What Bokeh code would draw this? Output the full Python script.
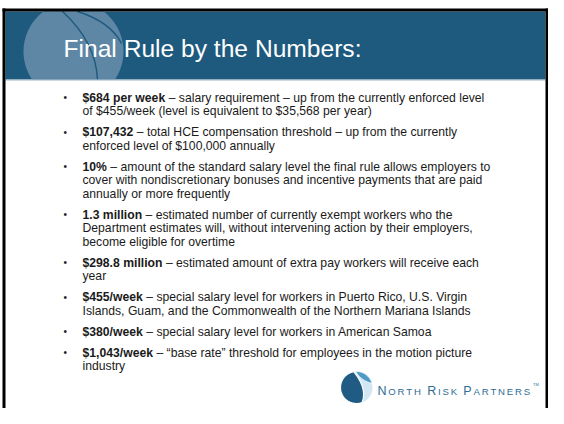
import numpy as np
from bokeh.plotting import figure
from bokeh.models import Range1d
from bokeh.core.properties import value
from bokeh.embed import file_html
from bokeh.resources import INLINE

# ---- content ----
title_text = "Final Rule by the Numbers:"
bold_parts = ["$684 per week", "$107,432", "10%", "1.3 million",
              "$298.8 million", "$455/week", "$380/week", "$1,043/week"]
first_rest = [
    "\u2013 salary requirement \u2013 up from the currently enforced level",
    "\u2013 total HCE compensation threshold \u2013 up from the currently",
    "\u2013 amount of the standard salary level the final rule allows employers to",
    "\u2013 estimated number of currently exempt workers who the",
    "\u2013 estimated amount of extra pay workers will receive each",
    "\u2013 special salary level for workers in Puerto Rico, U.S. Virgin",
    "\u2013 special salary level for workers in American Samoa",
    "\u2013 \u201cbase rate\u201d threshold for employees in the motion picture",
]
more_lines = [
    ["of $455/week (level is equivalent to $35,568 per year)"],
    ["enforced level of $100,000 annually"],
    ["cover with nondiscretionary bonuses and incentive payments that are paid",
     "annually or more frequently"],
    ["Department estimates will, without intervening action by their employers,",
     "become eligible for overtime"],
    ["year"],
    ["Islands, Guam, and the Commonwealth of the Northern Mariana Islands"],
    [],
    ["industry"],
]
logo_words = ["NORTH", "RISK", "PARTNERS"]

# ---- style ----
FONT = "Liberation Sans"
FS = 12.2
HEADER = "#1D5A7E"
CIRCLE = "#5E87A5"
TEXT = "#1A1A1A"
LOGO_DARK = "#1F5B82"
LOGO_MID = "#4E9AC6"
LOGO_PALE = "#D2E7F3"
LOGO_TEXT = "#2F6D95"

# Arial/Liberation bold advance widths (1/1000 em)
AB = {'$': 556, ' ': 278, ',': 278, '.': 278, '%': 889, '/': 278,
      'p': 611, 'e': 556, 'r': 389, 'w': 778, 'k': 556, 'm': 889,
      'i': 278, 'l': 278, 'o': 611, 'n': 611}
for d in "0123456789":
    AB[d] = 556
# Arial regular capitals
AR = {'N': 722, 'O': 778, 'R': 722, 'T': 611, 'H': 722, 'I': 278,
      'S': 667, 'K': 667, 'P': 667, 'A': 667, 'E': 667}

W, H = 548, 408
p = figure(width=W, height=H, x_range=Range1d(0, W), y_range=Range1d(H, 0),
           output_backend="svg", toolbar_location=None,
           x_axis_type=None, y_axis_type=None, min_border=0)
p.grid.visible = False
p.outline_line_color = None
p.background_fill_color = "white"
p.border_fill_color = "white"

R_EDGE = W - 3
# header band
p.quad(left=[5], right=[R_EDGE], top=[11], bottom=[79], fill_color=HEADER, line_color=None)
th = np.linspace(0, 2 * np.pi, 240)
cx, cy, r = 73, 51, 50
px = np.clip(cx + r * np.cos(th), 5, R_EDGE)
py = np.clip(cy + r * np.sin(th), 11, 79)
p.patch(px, py, fill_color=CIRCLE, line_color=None)
p.bezier(x0=[62, 77], y0=[11, 11], x1=[97, 121], y1=[79, 43],
         cx0=[86, 96], cy0=[33, 17], cx1=[96, 113], cy1=[55, 27],
         line_color=HEADER, line_width=1.4)
p.line([5, R_EDGE], [79.5, 79.5], line_color="#9FB5C5", line_width=1)

# black frame
p.quad(left=[2, 2, R_EDGE], right=[W, 5, W], top=[8, 8, 8], bottom=[11, H, H],
       fill_color="black", line_color=None)

# title
p.text(x=[63], y=[48], text=[title_text], text_font=value(FONT), text_font_size="24.6px",
       text_color="white", text_baseline="middle")

# bullets
y = 97.0
LINE, PARA = 13.5, 21.0
bx, by, bt = [], [], []
rx, ry, rt = [], [], []
dot_y = []
for b, f, m in zip(bold_parts, first_rest, more_lines):
    dot_y.append(y)
    bx.append(82); by.append(y); bt.append(b)
    w = sum(AB[c] for c in b) / 1000 * FS + 0.278 * FS
    rx.append(82 + w); ry.append(y); rt.append(f)
    yy = y
    for line in m:
        yy += LINE
        rx.append(82); ry.append(yy); rt.append(line)
    y = yy + PARA

p.text(x=[63] * len(dot_y), y=dot_y, text=["\u2022"] * len(dot_y), text_font=value(FONT),
       text_font_size="10px", text_color=TEXT, text_baseline="middle")
p.text(x=bx, y=by, text=bt, text_font=value(FONT), text_font_size=f"{FS}px",
       text_font_style="bold", text_color=TEXT, text_baseline="middle")
p.text(x=rx, y=ry, text=rt, text_font=value(FONT), text_font_size=f"{FS}px",
       text_color=TEXT, text_baseline="middle")

# logo mark
lx, ly, lr = 356, 387, 16
t = np.linspace(0, 2 * np.pi, 120)
p.patch(lx + lr * np.cos(t), ly - lr * np.sin(t), fill_color=LOGO_PALE, line_color=None)


def qbez(p0, c, p1, n=40):
    s = np.linspace(0, 1, n)[:, None]
    return (1 - s) ** 2 * np.array(p0) + 2 * (1 - s) * s * np.array(c) + s ** 2 * np.array(p1)


def pt(a):
    return (lx + lr * np.cos(np.radians(a)), ly - lr * np.sin(np.radians(a)))


# dark region (left)
a = np.radians(np.linspace(100, 290, 80))
arc = np.c_[lx + lr * np.cos(a), ly - lr * np.sin(a)]
inner = qbez(pt(290), (lx + 11, ly + 1), pt(100))
dark = np.vstack([arc, inner])
p.patch(dark[:, 0], dark[:, 1], fill_color=LOGO_DARK, line_color="white", line_width=1.2)
# mid crescent (top right)
a2 = np.radians(np.linspace(92, 15, 50))
arc2 = np.c_[lx + lr * np.cos(a2), ly - lr * np.sin(a2)]
inner2 = qbez(pt(15), (lx + 4, ly - 7), pt(92))
mid = np.vstack([arc2, inner2])
p.patch(mid[:, 0], mid[:, 1], fill_color=LOGO_MID, line_color="white", line_width=0.8)

# logo text in small caps
BIG, SMALL, TRACK = 12.5, 9.6, 1.8
chars, xs, sizes = [], [], []
x = 377.0
for wi, word in enumerate(logo_words):
    for ci, ch in enumerate(word):
        sz = BIG if ci == 0 else SMALL
        chars.append(ch); xs.append(x); sizes.append(f"{sz}px")
        x += AR[ch] / 1000 * sz + TRACK
    x += 0.278 * SMALL + TRACK
p.text(x=xs, y=[390.5] * len(xs), text=chars, text_font=value(FONT),
       text_font_size=sizes, text_color=LOGO_TEXT, text_baseline="alphabetic")
p.text(x=[x - 0.278 * SMALL - TRACK + 1], y=[383.5], text=["TM"], text_font=value(FONT),
       text_font_size="4px", text_color=LOGO_TEXT, text_baseline="alphabetic")

open("out.html", "w").write(file_html(p, INLINE))
